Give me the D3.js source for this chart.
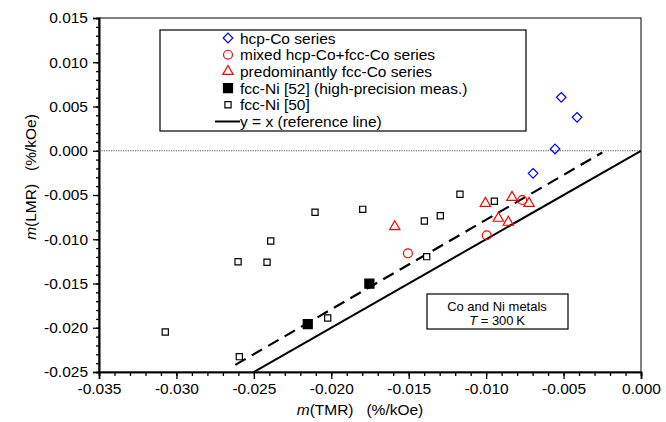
<!DOCTYPE html>
<html>
<head>
<meta charset="utf-8">
<script src="https://cdn.jsdelivr.net/npm/d3@7"></script>
<style>
  html, body { margin: 0; padding: 0; background: #fff; }
  svg { display: block; }
  text { font-family: "Liberation Sans", Arial, sans-serif; }
</style>
</head>
<body>
<svg id="chart" width="666" height="422"></svg>
<script>
// values (%/kOe)
const hcpX = [-0.00515, -0.00413, -0.00555, -0.00697];
const hcpY = [0.00604, 0.00378, 0.00020, -0.00255];

const mixedX = [-0.00767, -0.00996, -0.01505];
const mixedY = [-0.00557, -0.00955, -0.01159];

const fccCoX = [-0.01005, -0.00833, -0.00723, -0.00921, -0.00857, -0.01590];
const fccCoY = [-0.00594, -0.00526, -0.00594, -0.00763, -0.00808, -0.00858];

const ni52X = [-0.02152, -0.01754];
const ni52Y = [-0.01958, -0.01502];

const ni50X = [-0.03072, -0.02594, -0.02023, -0.02602, -0.02415, -0.02391, -0.02105,
               -0.01797, -0.01169, -0.00947, -0.01296, -0.01399, -0.01384];
const ni50Y = [-0.02048, -0.02327, -0.01890, -0.01254, -0.01260, -0.01020, -0.00695,
               -0.00662, -0.00492, -0.00571, -0.00734, -0.00794, -0.01197];

// dashed fit line end points
const fitX = [-0.0262, -0.0025];
const fitY = [-0.0242, -0.0002];

const xTicks = [-0.035, -0.030, -0.025, -0.020, -0.015, -0.010, -0.005, 0.000];
const xTickLabels = ['-0.035', '-0.030', '-0.025', '-0.020', '-0.015', '-0.010', '-0.005', '0.000'];
const yTicks = [-0.025, -0.020, -0.015, -0.010, -0.005, 0.000, 0.005, 0.010, 0.015];
const yTickLabels = ['-0.025', '-0.020', '-0.015', '-0.010', '-0.005', '0.000', '0.005', '0.010', '0.015'];

const legendLabels = [
  'hcp-Co series',
  'mixed hcp-Co+fcc-Co series',
  'predominantly fcc-Co series',
  'fcc-Ni [52] (high-precision meas.)',
  'fcc-Ni [50]',
  'y = x (reference line)'
];

const svg = d3.select('#chart');
const L = 99, R = 641, T = 18, B = 372;

const x = d3.scaleLinear().domain([-0.035, 0]).range([L, R]);
const y = d3.scaleLinear().domain([-0.025, 0.015]).range([B, T]);

svg.append('defs').append('clipPath').attr('id', 'plot')
  .append('rect').attr('x', L).attr('y', T).attr('width', R - L).attr('height', B - T);

// frame
svg.append('rect')
  .attr('x', L).attr('y', T).attr('width', R - L).attr('height', B - T)
  .attr('fill', 'none').attr('stroke', '#000').attr('stroke-width', 1);

// axes
const fontSize = 15.5;
const xAxis = svg.append('g').attr('transform', `translate(0,${B})`)
  .call(d3.axisBottom(x).tickValues(xTicks).tickSize(7).tickPadding(4)
    .tickFormat((d, i) => xTickLabels[i]));
const xMinor = svg.append('g').attr('transform', `translate(0,${B})`)
  .call(d3.axisBottom(x).tickValues(d3.range(-0.035, 0.0001, 0.001)).tickSize(4).tickFormat(''));
const yAxis = svg.append('g').attr('transform', `translate(${L},0)`)
  .call(d3.axisLeft(y).tickValues(yTicks).tickSize(6).tickPadding(5)
    .tickFormat((d, i) => yTickLabels[i]));
const yMinor = svg.append('g').attr('transform', `translate(${L},0)`)
  .call(d3.axisLeft(y).tickValues(d3.range(-0.025, 0.0151, 0.001)).tickSize(3).tickFormat(''));

[xAxis, xMinor, yAxis, yMinor].forEach(g => {
  g.select('.domain').attr('stroke-width', 1.6);
  g.selectAll('.tick line').attr('stroke-width', 1.3);
  g.selectAll('text').attr('font-size', fontSize).attr('fill', '#000')
    .attr('font-family', '"Liberation Sans", Arial, sans-serif');
});

// axis titles
const xt = svg.append('text').attr('x', 360).attr('y', 415)
  .attr('text-anchor', 'middle').attr('font-size', fontSize);
xt.append('tspan').attr('font-style', 'italic').text('m');
xt.append('tspan').text('(TMR)\u00a0\u00a0\u00a0(%/kOe)');

const yt = svg.append('text').attr('transform', 'translate(36,177) rotate(-90)')
  .attr('text-anchor', 'middle').attr('font-size', fontSize);
yt.append('tspan').attr('font-style', 'italic').text('m');
yt.append('tspan').text('(LMR)\u00a0\u00a0\u00a0(%/kOe)');

const plot = svg.append('g').attr('clip-path', 'url(#plot)');

// zero line
plot.append('line')
  .attr('x1', L).attr('x2', R).attr('y1', y(0)).attr('y2', y(0))
  .attr('stroke', '#555').attr('stroke-width', 1.2).attr('stroke-dasharray', '1.2 1.2');

// y = x reference line
plot.append('line')
  .attr('x1', x(-0.025)).attr('y1', y(-0.025)).attr('x2', x(0)).attr('y2', y(0))
  .attr('stroke', '#000').attr('stroke-width', 2);

// dashed line
plot.append('line')
  .attr('x1', x(fitX[0])).attr('y1', y(fitY[0])).attr('x2', x(fitX[1])).attr('y2', y(fitY[1]))
  .attr('stroke', '#000').attr('stroke-width', 2.2).attr('stroke-dasharray', '12 7');

// marker shapes
const diamond = 'M0,-4.8L4.8,0L0,4.8L-4.8,0Z';
const tri = d3.symbol().type(d3.symbolTriangle).size(46)();
const circ = d3.symbol().type(d3.symbolCircle).size(62)();
const sqOpen = d3.symbol().type(d3.symbolSquare).size(38)();
const sqFull = d3.symbol().type(d3.symbolSquare).size(82)();

const series = [
  { xs: hcpX, ys: hcpY, path: diamond, stroke: '#0000ff', fill: 'none' },
  { xs: mixedX, ys: mixedY, path: circ, stroke: '#ff0000', fill: 'none' },
  { xs: fccCoX, ys: fccCoY, path: tri, stroke: '#ff0000', fill: 'none' },
  { xs: ni50X, ys: ni50Y, path: sqOpen, stroke: '#000', fill: '#fff' },
  { xs: ni52X, ys: ni52Y, path: sqFull, stroke: '#000', fill: '#000' }
];

series.forEach(s => {
  svg.append('g').selectAll('path')
    .data(s.xs.map((v, i) => [v, s.ys[i]]))
    .enter().append('path')
    .attr('d', s.path)
    .attr('transform', d => `translate(${x(d[0])},${y(d[1])})`)
    .attr('fill', s.fill)
    .attr('stroke', s.stroke)
    .attr('stroke-width', 1.2);
});

// legend
const lg = svg.append('g');
lg.append('rect').attr('x', 160).attr('y', 30).attr('width', 366).attr('height', 101)
  .attr('fill', '#fff').attr('stroke', '#000').attr('stroke-width', 1.2);
const legSym = [
  { path: diamond, stroke: '#0000ff', fill: 'none' },
  { path: circ, stroke: '#ff0000', fill: 'none' },
  { path: tri, stroke: '#ff0000', fill: 'none' },
  { path: sqFull, stroke: '#000', fill: '#000' },
  { path: sqOpen, stroke: '#000', fill: '#fff' },
  null
];
legendLabels.forEach((lab, i) => {
  const cy = 38 + i * 16.7;
  const s = legSym[i];
  if (s) {
    lg.append('path').attr('d', s.path).attr('transform', `translate(228,${cy})`)
      .attr('fill', s.fill).attr('stroke', s.stroke).attr('stroke-width', 1.2);
  } else {
    lg.append('line').attr('x1', 215).attr('x2', 240).attr('y1', cy).attr('y2', cy)
      .attr('stroke', '#000').attr('stroke-width', 2);
  }
  lg.append('text').attr('x', 240).attr('y', cy).attr('dy', '0.36em')
    .attr('font-size', fontSize).text(lab);
});

// annotation box
const ab = svg.append('g');
ab.append('rect').attr('x', 427).attr('y', 294).attr('width', 141).attr('height', 35)
  .attr('fill', '#fff').attr('stroke', '#000').attr('stroke-width', 1.2);
ab.append('text').attr('x', 497).attr('y', 306).attr('dy', '0.36em')
  .attr('text-anchor', 'middle').attr('font-size', 13).text('Co and Ni metals');
const tt = ab.append('text').attr('x', 497).attr('y', 320).attr('dy', '0.36em')
  .attr('text-anchor', 'middle').attr('font-size', 13);
tt.append('tspan').attr('font-style', 'italic').text('T');
tt.append('tspan').text(' = 300\u2009K');
</script>
</body>
</html>
